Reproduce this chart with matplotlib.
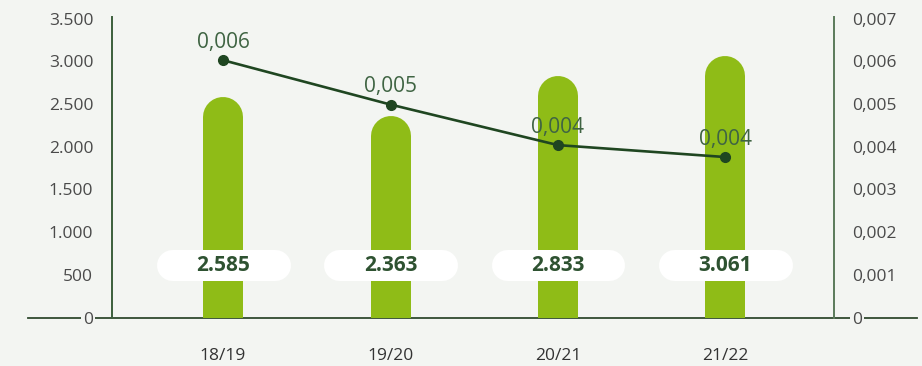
import numpy as np
import matplotlib.pyplot as plt

# data
seasons = ["18/19", "19/20", "20/21", "21/22"]
totals = [2585, 2363, 2833, 3061]
ratio = [0.00603, 0.00499, 0.00404, 0.00376]
ratio_labels = ["0,006", "0,005", "0,004", "0,004"]
left_ticks = [0, 500, 1000, 1500, 2000, 2500, 3000, 3500]
left_labels = ["0", "500", "1.000", "1.500", "2.000", "2.500", "3.000", "3.500"]
right_ticks = [0, 0.001, 0.002, 0.003, 0.004, 0.005, 0.006, 0.007]
right_labels = ["0", "0,001", "0,002", "0,003", "0,004", "0,005", "0,006", "0,007"]

bg = "#f3f5f2"
bar_green = "#8fbc17"
dark_green = "#1f4621"
axis_green = "#3c5e3c"
plt.rcParams["font.family"] = ["Open Sans", "DejaVu Sans"]

W, H = 922, 366
fig = plt.figure(figsize=(W / 100, H / 100), dpi=100, facecolor=bg)
ax = fig.add_axes([112 / W, 48.5 / H, 722 / W, 298.7 / H])
ax.set_facecolor(bg)
ax.set_ylim(0, 3500)
ax.set_xlim(-0.663, 3.648)
x = np.arange(len(seasons))

# unit conversions so the rounded caps stay circular
px_per_y = 298.7 / 3500
px_per_x = 167.5
bar_w_px = 40
cap_r = (bar_w_px / 2) / px_per_y

for xi, v in zip(x, totals):
    ax.plot([xi, xi], [-500, v - cap_r], color=bar_green, lw=bar_w_px * 0.72,
            solid_capstyle="round", zorder=2)

# white pill labels
box_y = 610
box_half = (134 / 2 - 15.5) / px_per_x
for xi, v in zip(x, totals):
    ax.plot([xi - box_half, xi + box_half], [box_y, box_y], color="white",
            lw=31 * 0.72, solid_capstyle="round", zorder=3)
    ax.text(xi, box_y, f"{v:,}".replace(",", "."), ha="center", va="center",
            fontsize=15, fontweight="bold", color="#2e5231", zorder=4)

# baseline running past both axes
ax.axhline(0, xmin=(28 - 112) / 722, xmax=(917 - 112) / 722, color="#2f4a2f",
           lw=1.3, clip_on=False, zorder=1)

for s in ["top", "right", "bottom"]:
    ax.spines[s].set_visible(False)
ax.spines["left"].set_color(axis_green)
ax.spines["left"].set_linewidth(1.4)
ax.spines["left"].set_bounds(0, 3520)

ax.set_yticks(left_ticks)
ax.set_yticklabels(left_labels)
ax.tick_params(axis="y", length=0, pad=13.5, labelsize=12.5, labelcolor="#4a4a4a")
ax.set_xticks(x)
ax.set_xticklabels(seasons)
ax.tick_params(axis="x", length=0, pad=22, labelsize=12.5, labelcolor="#333333")
ax.get_yticklabels()[0].set_bbox(dict(facecolor=bg, edgecolor="none", pad=1.5))

# ratio line on the right axis
ax2 = ax.twinx()
ax2.set_ylim(0, 0.007)
ax2.plot(x, ratio, color=dark_green, lw=1.9, marker="o", markersize=7, zorder=5)
for xi, v, lab in zip(x, ratio, ratio_labels):
    ax2.annotate(lab, (xi, v), xytext=(0, 9), textcoords="offset points",
                 ha="center", va="baseline", fontsize=15, color="#3f6443", zorder=6)

for s in ["top", "left", "bottom"]:
    ax2.spines[s].set_visible(False)
ax2.spines["right"].set_color("#5a7a5a")
ax2.spines["right"].set_linewidth(1.4)
ax2.spines["right"].set_bounds(0, 0.00704)
ax2.set_yticks(right_ticks)
ax2.set_yticklabels(right_labels)
ax2.tick_params(axis="y", length=0, pad=13, labelsize=12.5, labelcolor="#4a4a4a")
ax2.get_yticklabels()[0].set_bbox(dict(facecolor=bg, edgecolor="none", pad=1.5))

fig.savefig("out.png", dpi=100, facecolor=bg)
